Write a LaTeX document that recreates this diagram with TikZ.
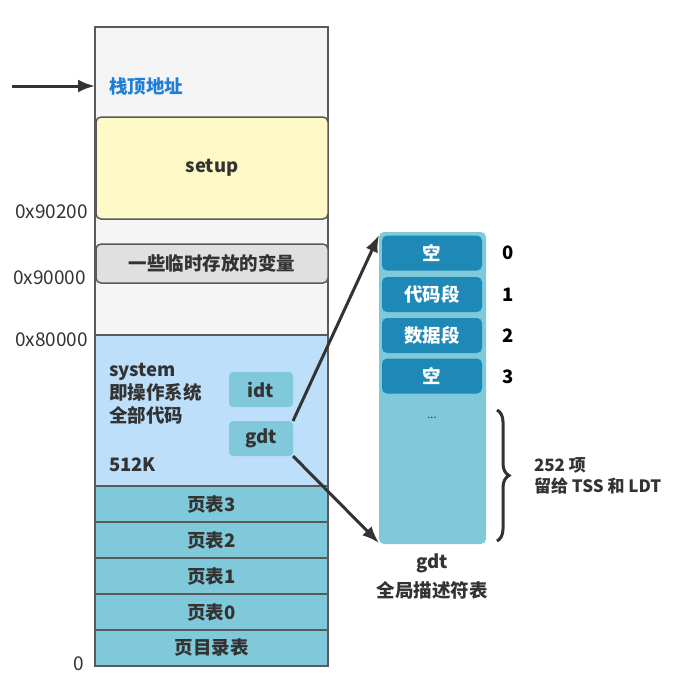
\documentclass[tikz,border=0pt]{standalone}
\usepackage{fontspec}
\setmainfont{Noto Sans CJK SC}
\usetikzlibrary{arrows.meta,decorations.pathreplacing}
\definecolor{lgray}{HTML}{F5F5F5}
\definecolor{bordergray}{HTML}{5A5A5A}
\definecolor{yel}{HTML}{FFF9C8}
\definecolor{midgray}{HTML}{E0E0E0}
\definecolor{sysblue}{HTML}{BDDFFA}
\definecolor{teal}{HTML}{7FC9DB}
\definecolor{darkteal}{HTML}{1E88B6}
\definecolor{txt}{HTML}{333333}
\definecolor{linkblue}{HTML}{1F7FD8}
\tikzset{
  x=1pt,y=-1pt,
  base/.style={font=\fontsize{18.5}{22}\selectfont, text=txt, inner sep=0pt, outer sep=0pt},
  boldfont/.style={font=\fontsize{18.5}{22}\selectfont\bfseries},
  region/.style={base, draw=bordergray, line width=1.5pt, anchor=north west},
  roundbox/.style={region, rounded corners=5pt},
  ptab/.style={region, fill=teal, minimum width=233, minimum height=36, boldfont},
  smallbox/.style={base, fill=teal, rounded corners=4pt, minimum width=64, minimum height=35, boldfont},
  entry/.style={base, fill=darkteal, rounded corners=5pt, minimum width=100, minimum height=35, text=white, boldfont},
  addr/.style={base, anchor=east, font=\fontsize{19}{22}\selectfont},
  idx/.style={base, text=black, boldfont},
  bold/.style={base, boldfont},
  arr/.style={draw=txt, line width=3pt, -{Latex[length=17pt,width=13pt]}},
}
\begin{document}
\begin{tikzpicture}
\useasboundingbox[fill=white] (0,0) rectangle (673,681);
% memory column
\node[region, fill=lgray, minimum width=233, minimum height=308] (top) at (95,27) {};
\node[roundbox, fill=yel, minimum width=232, minimum height=102, boldfont] (setup) at (96,117) {setup};
\node[roundbox, fill=midgray, minimum width=232, minimum height=39, boldfont] (temp) at (96,244) {一些临时存放的变量};
\node[region, fill=sysblue, minimum width=233, minimum height=151] (sys) at (95,335) {};
\node[ptab] (pt3) at (95,486) {页表3};
\node[ptab] (pt2) at (95,522) {页表2};
\node[ptab] (pt1) at (95,558) {页表1};
\node[ptab] (pt0) at (95,594) {页表0};
\node[ptab] (pd) at (95,630) {页目录表};
% stack pointer
\coordinate (sp) at (12,86);
\draw[arr] (sp) -- (sp -| top.west);
\node[bold, text=linkblue, anchor=west] (sptext) at (109,86) {栈顶地址};
% system text
\node[bold, anchor=north west, align=left, font=\fontsize{18.5}{23}\selectfont\bfseries] (systext) at (109,363) {system\\即操作系统\\全部代码};
\node[bold, anchor=west] (size) at (109,465) {512K};
\node[smallbox, anchor=north west] (idt) at (229,372) {idt};
\node[smallbox, anchor=north west] (gdt) at (229,421) {gdt};
% addresses
\node[addr] (a1) at (88,212) {0x90200};
\node[addr] (a2) at (86,278) {0x90000};
\node[addr] (a3) at (88,340) {0x80000};
\node[addr] (a4) at (84,664) {0};
% gdt table
\node[base, fill=teal, rounded corners=5pt, minimum width=107, minimum height=312, anchor=north west] (gdtab) at (379,232) {};
\node[entry] (e0) at (432,253) {空};
\node[entry] (e1) at (432,294.5) {代码段};
\node[entry] (e2) at (432,335.5) {数据段};
\node[entry] (e3) at (432,376) {空};
\node[base, font=\fontsize{11}{12}\selectfont] (dots) at (432,418) {...};
\node[idx] (n0) at (508,253) {0};
\node[idx] (n1) at (508,295) {1};
\node[idx] (n2) at (508,336) {2};
\node[idx] (n3) at (508,377) {3};
\coordinate (bt) at (497,410);
\coordinate (bb) at (497,541);
\draw[txt, line width=3pt, decoration={brace, amplitude=12pt}, decorate] (bt) -- (bb);
\node[bold, anchor=west, align=left, font=\fontsize{17}{21}\selectfont\bfseries] (bl) at (534,476) {252 项\\留给 TSS 和 LDT};
\node[bold] (gl) at (432,563) {gdt};
\node[bold] (gl2) at (432,590) {全局描述符表};
% arrows
\draw[arr] (gdt.north east) -- ([yshift=-3pt]gdtab.north west);
\draw[arr] (gdt.south east) -- ([yshift=1pt]gdtab.south west);
\end{tikzpicture}
\end{document}
